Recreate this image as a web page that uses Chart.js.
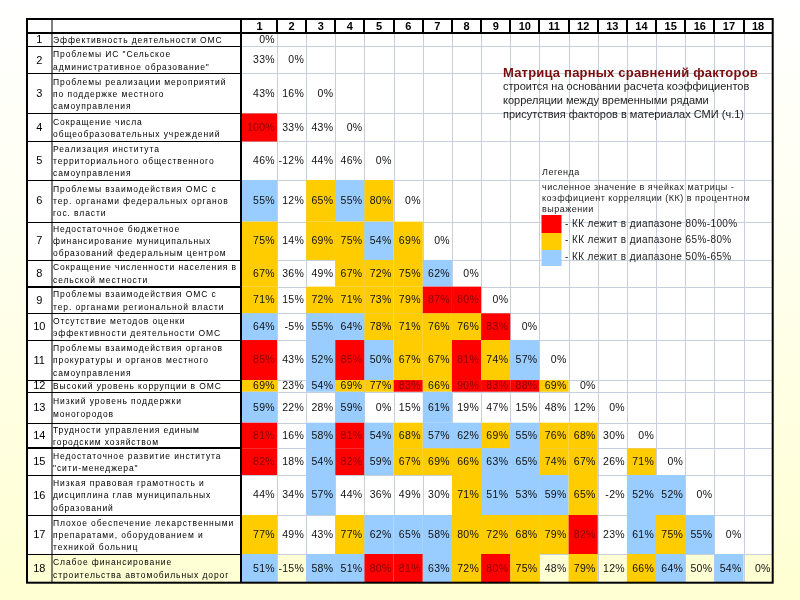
<!DOCTYPE html>
<html>
<head>
<meta charset="utf-8">
<script src="https://cdn.jsdelivr.net/npm/chart.js@4.4.0/dist/chart.umd.min.js"></script>
<style>
html, body { margin: 0; padding: 0; background: #fff; }
canvas { display: block; }
</style>
</head>
<body>
<canvas id="matrixChart" width="800" height="600"></canvas>
<script>
// factors (row labels), one array of lines per factor
var factors = [
    ['Эффективность деятельности ОМС'],
    ['Проблемы ИС "Сельское', 'административное образование"'],
    ['Проблемы реализации мероприятий', 'по поддержке местного', 'самоуправления'],
    ['Сокращение числа', 'общеобразовательных учреждений'],
    ['Реализация института', 'территориального общественного', 'самоуправления'],
    ['Проблемы взаимодействия ОМС с', 'тер. органами федеральных органов', 'гос. власти'],
    ['Недостаточное бюджетное', 'финансирование муниципальных', 'образований федеральным центром'],
    ['Сокращение численности населения в', 'сельской местности'],
    ['Проблемы взаимодействия ОМС с', 'тер. органами региональной власти'],
    ['Отсутствие методов оценки', 'эффективности деятельности ОМС'],
    ['Проблемы взаимодействия органов', 'прокуратуры и органов местного', 'самоуправления'],
    ['Высокий уровень коррупции в ОМС'],
    ['Низкий уровень поддержки', 'моногородов'],
    ['Трудности управления единым', 'городским хозяйством'],
    ['Недостаточное развитие института', '"сити-менеджера"'],
    ['Низкая правовая грамотность и', 'дисциплина глав муниципальных', 'образований'],
    ['Плохое обеспечение лекарственными', 'препаратами, оборудованием и', 'техникой больниц'],
    ['Слабое финансирование', 'строительства автомобильных дорог']
];

var colLabels = ['1', '2', '3', '4', '5', '6', '7', '8', '9', '10', '11', '12', '13', '14', '15', '16', '17', '18'];

// correlation coefficients, %, lower triangle
var values = [
    [0],
    [33, 0],
    [43, 16, 0],
    [100, 33, 43, 0],
    [46, -12, 44, 46, 0],
    [55, 12, 65, 55, 80, 0],
    [75, 14, 69, 75, 54, 69, 0],
    [67, 36, 49, 67, 72, 75, 62, 0],
    [71, 15, 72, 71, 73, 79, 87, 80, 0],
    [64, -5, 55, 64, 78, 71, 76, 76, 83, 0],
    [85, 43, 52, 85, 50, 67, 67, 81, 74, 57, 0],
    [69, 23, 54, 69, 77, 83, 66, 90, 83, 88, 69, 0],
    [59, 22, 28, 59, 0, 15, 61, 19, 47, 15, 48, 12, 0],
    [81, 16, 58, 81, 54, 68, 57, 62, 69, 55, 76, 68, 30, 0],
    [82, 18, 54, 82, 59, 67, 69, 66, 63, 65, 74, 67, 26, 71, 0],
    [44, 34, 57, 44, 36, 49, 30, 71, 51, 53, 59, 65, -2, 52, 52, 0],
    [77, 49, 43, 77, 62, 65, 58, 80, 72, 68, 79, 82, 23, 61, 75, 55, 0],
    [51, -15, 58, 51, 80, 81, 63, 72, 80, 75, 48, 79, 12, 66, 64, 50, 54, 0]
];

// range class of each cell as marked in the source: 3 = 80-100%, 2 = 65-80%, 1 = 50-65%, 0 = none
var bands = [
    [0],
    [0, 0],
    [0, 0, 0],
    [3, 0, 0, 0],
    [0, 0, 0, 0, 0],
    [1, 0, 2, 1, 2, 0],
    [2, 0, 2, 2, 1, 2, 0],
    [2, 0, 0, 2, 2, 2, 1, 0],
    [2, 0, 2, 2, 2, 2, 3, 3, 0],
    [1, 0, 1, 1, 2, 2, 2, 2, 3, 0],
    [3, 0, 1, 3, 1, 2, 2, 3, 2, 1, 0],
    [2, 0, 1, 2, 2, 3, 2, 3, 3, 3, 2, 0],
    [1, 0, 0, 1, 0, 0, 1, 0, 0, 0, 0, 0, 0],
    [3, 0, 1, 3, 1, 2, 1, 1, 2, 1, 2, 2, 0, 0],
    [3, 0, 1, 3, 1, 2, 2, 2, 1, 1, 2, 2, 0, 2, 0],
    [0, 0, 1, 0, 0, 0, 0, 2, 1, 1, 1, 2, 0, 1, 1, 0],
    [2, 0, 0, 2, 1, 1, 1, 2, 2, 2, 2, 3, 0, 1, 2, 1, 0],
    [1, 0, 1, 1, 3, 3, 1, 2, 3, 2, 0, 2, 0, 2, 1, 0, 1, 0]
];

var titleText = 'Матрица парных сравнений факторов';
var subtitleLines = ['строится на основании расчета коэффициентов', 'корреляции между временными рядами', 'присутствия факторов в материалах СМИ (ч.1)'];
var legendTitle = 'Легенда';
var legendNote = ['численное значение в ячейках матрицы -', 'коэффициент корреляции (КК) в процентном', 'выражении'];
var legendItems = ['- КК лежит в диапазоне 80%-100%', '- КК лежит в диапазоне 65%-80%', '- КК лежит в диапазоне 50%-65%'];

// layout of the table (not data)
var bandColors = [null, '#99ccff', '#ffcc00', '#ff0000'];
var rowHeights = [13.5, 27, 40, 28, 38.5, 41.7, 38.3, 26.7, 26.7, 26.7, 40, 11.7, 31, 25.6, 26.7, 40, 39, 28.7];
var colWidths = colLabels.map(function(c, i) { return i === 0 ? 1.2 : 1; });
var tableLeft = 27, numRight = 51.5, tableTop = 19;

var rowEdges = [0], colEdges = [0];
rowHeights.forEach(function(h, i) { rowEdges.push(rowEdges[i] + h); });
colWidths.forEach(function(w, i) { colEdges.push(colEdges[i] + w); });

var points = [];
values.forEach(function(row, i) {
    row.forEach(function(v, j) {
        points.push({
            x: (colEdges[j] + colEdges[j + 1]) / 2,
            y: (rowEdges[i] + rowEdges[i + 1]) / 2,
            row: i, col: j, v: v, band: bands[i][j]
        });
    });
});

var matrixPlugin = {
    id: 'matrix',
    beforeDraw: function(chart) {
        var ctx = chart.ctx;
        var g = ctx.createLinearGradient(0, 0, 0, 600);
        g.addColorStop(0, '#ffffff');
        g.addColorStop(0.35, '#fffff2');
        g.addColorStop(1, '#ffffd2');
        ctx.save();
        ctx.fillStyle = g;
        ctx.fillRect(0, 0, chart.width, chart.height);
        ctx.restore();
    },
    beforeDatasetsDraw: function(chart) {
        var ctx = chart.ctx;
        var xs = chart.scales.x, ys = chart.scales.y;
        var area = chart.chartArea;
        var right = area.right, bottom = area.bottom, cellLeft = area.left;
        var top = area.top;
        function X(v) { return xs.getPixelForValue(v); }
        function Y(v) { return ys.getPixelForValue(v); }

        ctx.save();
        // white rows (last row is transparent in the source)
        ctx.fillStyle = '#ffffff';
        ctx.fillRect(tableLeft, tableTop, right - tableLeft, top - tableTop);
        for (var i = 0; i < factors.length - 1; i++) {
            ctx.fillRect(tableLeft, Y(rowEdges[i]), right - tableLeft, Y(rowEdges[i + 1]) - Y(rowEdges[i]));
        }

        // light grid of the cell area
        ctx.strokeStyle = '#c8cedc';
        ctx.lineWidth = 1;
        ctx.beginPath();
        for (var c = 1; c < colEdges.length - 1; c++) {
            var gx = Math.round(X(colEdges[c])) + 0.5;
            ctx.moveTo(gx, top); ctx.lineTo(gx, bottom);
        }
        for (var r = 1; r < rowEdges.length - 1; r++) {
            var gy = Math.round(Y(rowEdges[r])) + 0.5;
            ctx.moveTo(cellLeft, gy); ctx.lineTo(right, gy);
        }
        ctx.stroke();

        // coloured cells
        points.forEach(function(p) {
            if (!p.band) return;
            var x0 = X(colEdges[p.col]), x1 = X(colEdges[p.col + 1]);
            var y0 = Y(rowEdges[p.row]), y1 = Y(rowEdges[p.row + 1]);
            ctx.fillStyle = bandColors[p.band];
            ctx.fillRect(x0, y0, x1 - x0, y1 - y0);
        });

        // cell values
        ctx.font = '10.5px "Liberation Sans", Arial, sans-serif';
        ctx.letterSpacing = '0.3px';
        ctx.textAlign = 'right';
        ctx.textBaseline = 'middle';
        points.forEach(function(p) {
            ctx.fillStyle = p.band === 3 ? '#8a0000' : '#111111';
            ctx.fillText(p.v + '%', X(colEdges[p.col + 1]) - 2, Y(p.y) + 0.5);
        });

        // header numbers
        ctx.font = 'bold 11px "Liberation Sans", Arial, sans-serif';
        ctx.letterSpacing = '0px';
        ctx.textAlign = 'center';
        ctx.fillStyle = '#000';
        colLabels.forEach(function(lbl, j) {
            ctx.fillText(lbl, X((colEdges[j] + colEdges[j + 1]) / 2), (tableTop + top) / 2 + 0.5);
        });

        // row numbers and factor names
        factors.forEach(function(lines, i) {
            var cy = Y((rowEdges[i] + rowEdges[i + 1]) / 2);
            ctx.font = '11px "Liberation Sans", Arial, sans-serif';
            ctx.letterSpacing = '0px';
            ctx.textAlign = 'center';
            ctx.fillText(String(i + 1), (tableLeft + numRight) / 2, cy + 0.5);
            ctx.font = '8.5px "Liberation Sans", Arial, sans-serif';
            ctx.letterSpacing = '0.9px';
            ctx.textAlign = 'left';
            var step = lines.length > 1 && rowHeights[i] < 30 ? 12.5 : 12.3;
            lines.forEach(function(t, k) {
                ctx.fillText(t, numRight + 1.5, cy + 1 + (k - (lines.length - 1) / 2) * step);
            });
        });

        // black rules of the label columns
        ctx.strokeStyle = '#000';
        ctx.lineWidth = 1;
        ctx.beginPath();
        for (var r2 = 0; r2 < rowEdges.length - 1; r2++) {
            var ly = Math.round(Y(rowEdges[r2])) + 0.5;
            ctx.moveTo(tableLeft, ly); ctx.lineTo(cellLeft, ly);
        }
        ctx.moveTo(numRight + 0.5, tableTop); ctx.lineTo(numRight + 0.5, bottom);
        ctx.stroke();

        ctx.lineWidth = 2;
        ctx.beginPath();
        [8, 14].forEach(function(r3) {
            var ty = Math.round(Y(rowEdges[r3]));
            ctx.moveTo(tableLeft, ty); ctx.lineTo(cellLeft, ty);
        });
        ctx.moveTo(cellLeft - 1, tableTop); ctx.lineTo(cellLeft - 1, bottom);
        ctx.moveTo(tableLeft, top); ctx.lineTo(right, top);
        for (var c2 = 1; c2 < colEdges.length - 1; c2++) {
            var hx = Math.round(X(colEdges[c2]));
            ctx.moveTo(hx, tableTop); ctx.lineTo(hx, top);
        }
        ctx.stroke();

        ctx.lineWidth = 2;
        ctx.strokeRect(tableLeft, tableTop, right - tableLeft, bottom - tableTop);

        // title block
        ctx.letterSpacing = '0.2px';
        ctx.textAlign = 'left';
        ctx.fillStyle = '#7a0c0c';
        ctx.font = 'bold 13px "Liberation Sans", Arial, sans-serif';
        ctx.fillText(titleText, 503, 73);
        ctx.fillStyle = '#222';
        ctx.font = '11px "Liberation Sans", Arial, sans-serif';
        ctx.letterSpacing = '0px';
        subtitleLines.forEach(function(t, k) { ctx.fillText(t, 503, 87 + k * 14); });

        // legend
        ctx.font = '9px "Liberation Sans", Arial, sans-serif';
        ctx.letterSpacing = '0.5px';
        ctx.fillText(legendTitle, 542, 173);
        legendNote.forEach(function(t, k) { ctx.fillText(t, 542, 187.5 + k * 11); });
        var sy = [215, 233, 250, 266];
        legendItems.forEach(function(t, k) {
            ctx.fillStyle = bandColors[3 - k];
            ctx.fillRect(541.5, sy[k], 20, sy[k + 1] - sy[k]);
            ctx.fillStyle = '#222';
            ctx.font = '10px "Liberation Sans", Arial, sans-serif';
            ctx.letterSpacing = '0.4px';
            ctx.fillText(t, 565, 224.5 + k * 16.2);
        });
        ctx.restore();
    }
};

new Chart(document.getElementById('matrixChart').getContext('2d'), {
    type: 'scatter',
    data: {
        datasets: [{
            label: 'КК, %',
            data: points,
            pointRadius: 0,
            pointHoverRadius: 0
        }]
    },
    options: {
        responsive: false,
        animation: false,
        layout: { padding: { left: 242, top: 33, right: 27.3, bottom: 17.3 } },
        plugins: { legend: { display: false }, tooltip: { enabled: false } },
        scales: {
            x: { type: 'linear', display: false, min: 0, max: colEdges[colEdges.length - 1] },
            y: { type: 'linear', display: false, reverse: true, min: 0, max: rowEdges[rowEdges.length - 1] }
        }
    },
    plugins: [matrixPlugin]
});
</script>
</body>
</html>
